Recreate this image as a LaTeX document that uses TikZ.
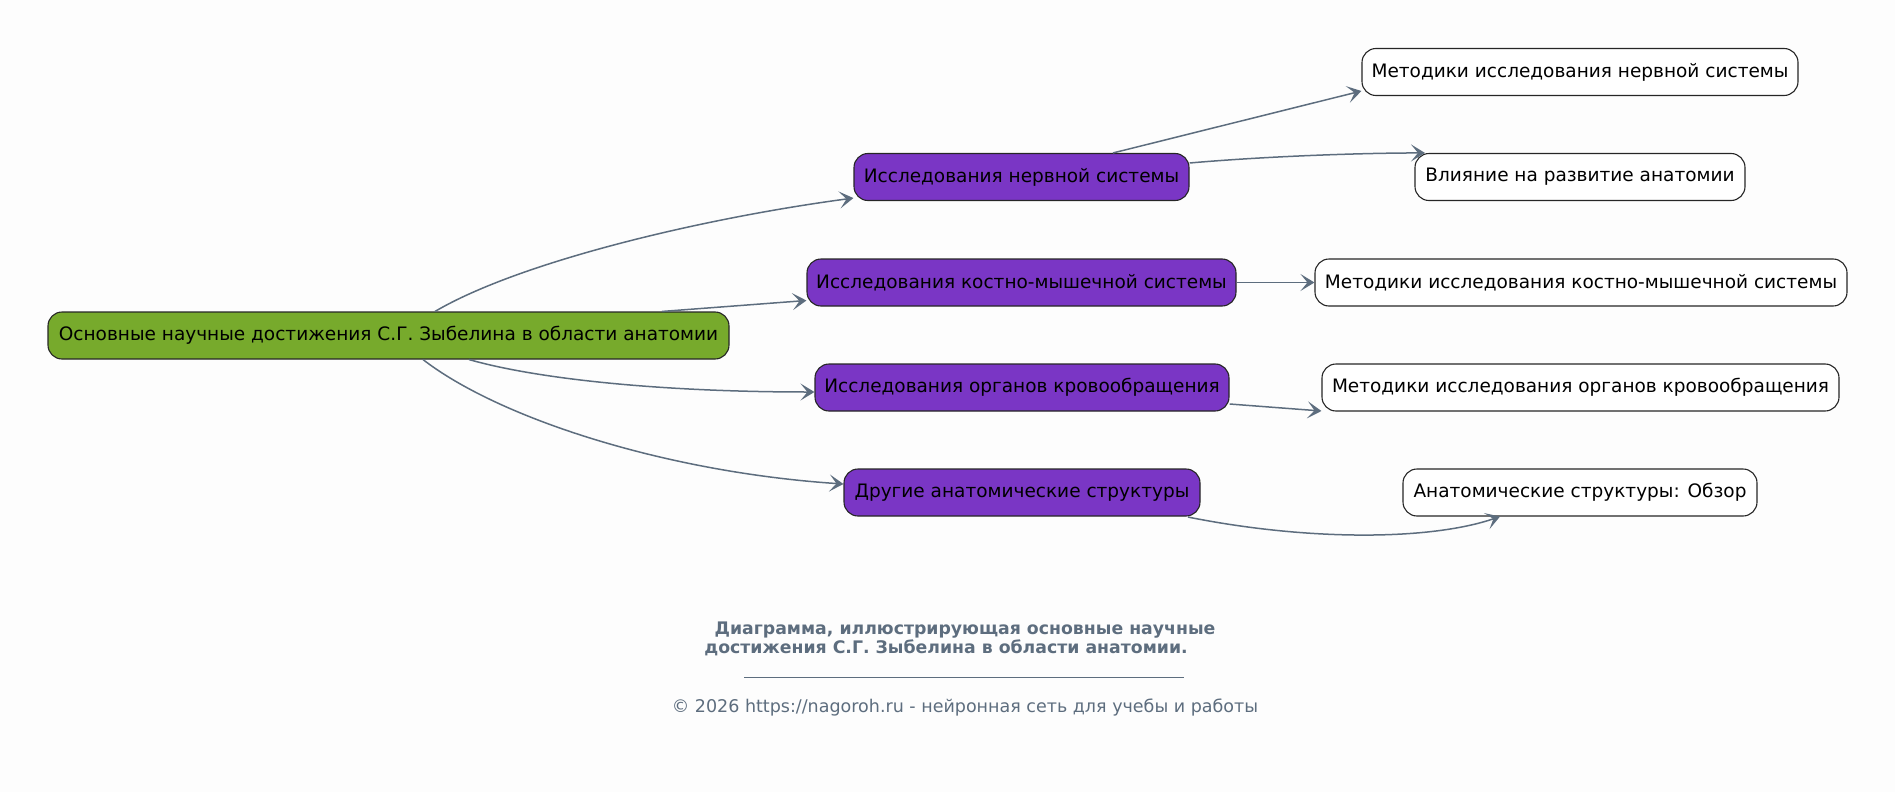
\documentclass[tikz,border=0pt]{standalone}
\usepackage{fontspec}
\setmainfont{DejaVu Sans}
\usetikzlibrary{arrows.meta}
\definecolor{leafgreen}{HTML}{77AA2C}
\definecolor{violetbox}{HTML}{7A36C5}
\definecolor{slate}{HTML}{5D6D7E}
\definecolor{bgc}{HTML}{FDFDFD}
\tikzset{
  box/.style={draw=black!85, line width=1.1pt, rounded corners=14pt, minimum height=47pt,
    inner xsep=4pt, inner ysep=0pt, font=\fontsize{18.5}{22}\selectfont, text=black, anchor=center},
  rootbox/.style={box, fill=leafgreen},
  midbox/.style={box, fill=violetbox},
  leafbox/.style={box, fill=white},
  conn/.style={draw=slate, line width=1.5pt, -{Stealth[length=14pt,width=17pt,inset=7pt]}},
}
\begin{document}
\begin{tikzpicture}[x=1pt,y=-1pt]
\fill[bgc] (0,0) rectangle (1895,792);
\useasboundingbox (0,0) rectangle (1895,792);
\node[rootbox, minimum width=681pt] (g) at (388.5,335.5) {Основные научные достижения С.Г. Зыбелина в области анатомии};
\node[midbox, minimum width=335pt] (p1) at (1021.5,177) {Исследования нервной системы};
\node[midbox, minimum width=429pt] (p2) at (1021.5,282.5) {Исследования костно-мышечной системы};
\node[midbox, minimum width=414pt] (p3) at (1022,387.5) {Исследования органов кровообращения};
\node[midbox, minimum width=356pt] (p4) at (1022,492.5) {Другие анатомические структуры};
\node[leafbox, minimum width=436pt] (a) at (1580,72) {Методики исследования нервной системы};
\node[leafbox, minimum width=330pt] (b) at (1580,177) {Влияние на развитие анатомии};
\node[leafbox, minimum width=532pt] (c) at (1581,282.5) {Методики исследования костно-мышечной системы};
\node[leafbox, minimum width=517pt] (d) at (1580.5,387.5) {Методики исследования органов кровообращения};
\node[leafbox, minimum width=354pt] (e) at (1580,492.5) {Анатомические структуры: Обзор};

\draw[conn] ([xshift=46.5pt]g.north) .. controls +(85,-50) and +(-150,20) .. ([yshift=3pt]p1.south west);
\draw[conn] ([xshift=273.5pt]g.north) -- ([yshift=-18pt]p2.west);
\draw[conn] ([xshift=80.5pt]g.south) .. controls +(70,20) and +(-150,0) .. ([yshift=-4.5pt]p3.west);
\draw[conn] ([xshift=34.5pt]g.south) .. controls +(75,58) and +(-180,-12) .. ([yshift=8.5pt]p4.west);
\draw[conn] ([xshift=91.5pt]p1.north) -- ([yshift=-19pt]a.west);
\draw[conn] ([yshift=14pt]p1.east) .. controls +(80,-7) and +(-60,0) .. ([xshift=-155pt]b.north);
\draw[conn] (p2.east) -- (c.west);
\draw[conn] ([yshift=-16.5pt]p3.east) -- ([yshift=-23.5pt]d.west);
\draw[conn] ([xshift=166pt,yshift=-0.5pt]p4.south) .. controls +(120,24) and +(-70,24) .. ([xshift=-80pt]e.south);

\node[font=\bfseries\fontsize{17.3}{20}\selectfont, text=slate] (t1) at (965,630) {Диаграмма, иллюстрирующая основные научные};
\node[font=\bfseries\fontsize{17.3}{20}\selectfont, text=slate] (t2) at (946,648) {достижения С.Г. Зыбелина в области анатомии.};
\coordinate (hl1) at (744,677);
\coordinate (hl2) at (1184,677);
\draw[slate, line width=0.8pt] (hl1) -- (hl2);
\node[font=\fontsize{17.5}{21}\selectfont, text=slate] (cp) at (965,708) {© 2026 https://nagoroh.ru - нейронная сеть для учебы и работы};
\end{tikzpicture}
\end{document}
